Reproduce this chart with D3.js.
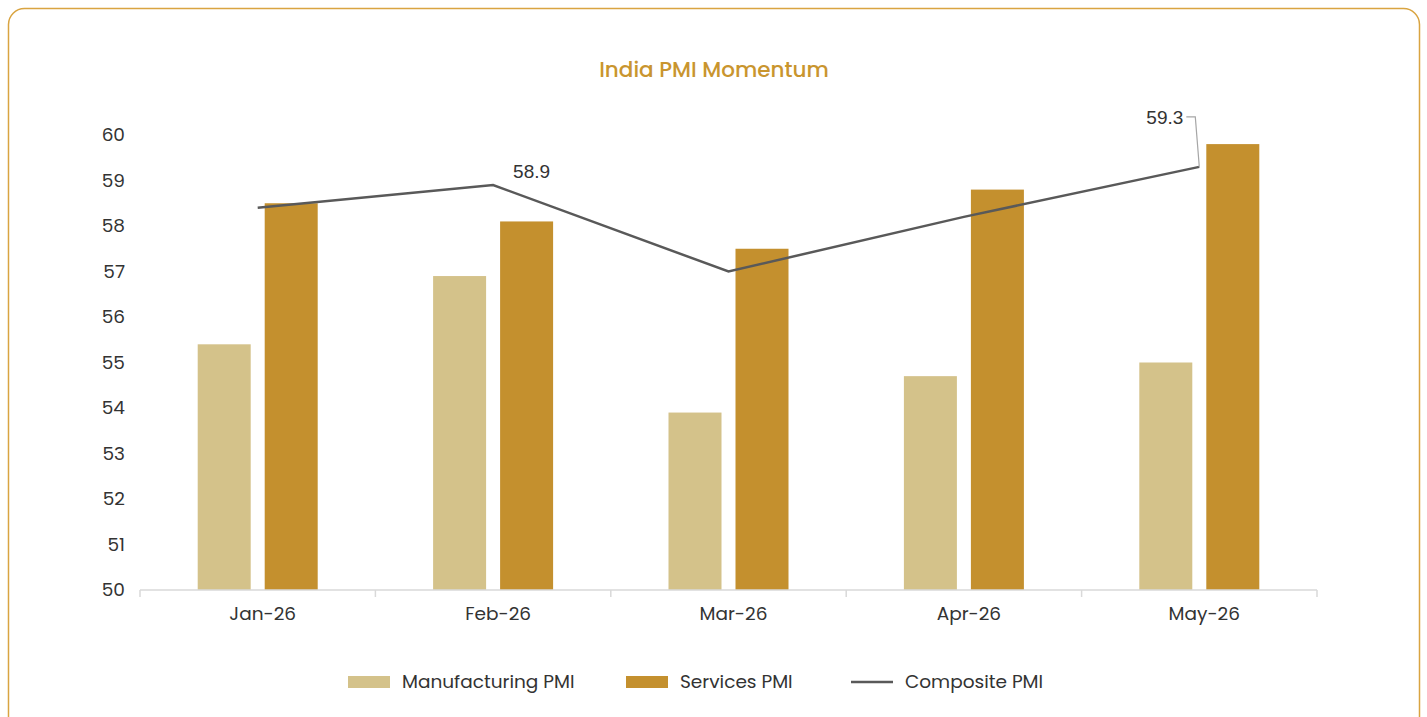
<!DOCTYPE html>
<html>
<head>
<meta charset="utf-8">
<script src="https://cdn.jsdelivr.net/npm/d3@7"></script>
<style>
  body { margin: 0; background: #fff; }
  svg text { font-family: Poppins, "Open Sans", sans-serif; }
</style>
</head>
<body>
<svg id="chart" width="1427" height="717"></svg>
<script>
const months = ["Jan-26", "Feb-26", "Mar-26", "Apr-26", "May-26"];
const manufacturing = [55.4, 56.9, 53.9, 54.7, 55.0];
const services = [58.5, 58.1, 57.5, 58.8, 59.8];
const composite = [58.4, 58.9, 57.0, 58.2, 59.3];
const yTicks = [50, 51, 52, 53, 54, 55, 56, 57, 58, 59, 60];

const colors = {
    manufacturing: "#D4C28A",
    services: "#C4902E",
    composite: "#595959",
    title: "#C9952E",
    border: "#D9A441"
};

const svg = d3.select("#chart");

// card border
svg.append("rect")
    .attr("x", 8.5).attr("y", 8.5)
    .attr("width", 1411).attr("height", 724)
    .attr("rx", 16)
    .attr("fill", "#fff")
    .attr("stroke", colors.border)
    .attr("stroke-width", 1.5);

svg.append("text")
    .attr("x", 714).attr("y", 77)
    .attr("text-anchor", "middle")
    .attr("fill", colors.title)
    .style("font-size", "21.5px")
    .style("font-weight", 500)
    .text("India PMI Momentum");

const x = d3.scaleBand().domain(months).range([140, 1317]);
const y = d3.scaleLinear().domain([50, 60]).range([590, 135]);

const barW = 53, gap = 14;

// y labels
svg.append("g")
    .selectAll("text")
    .data(yTicks)
    .enter()
    .append("text")
    .attr("x", 125)
    .attr("y", d => y(d))
    .attr("dy", "0.35em")
    .attr("text-anchor", "end")
    .attr("fill", "#333")
    .style("font-size", "18.5px")
    .text(d => d);

// bars
const g = svg.append("g");
g.selectAll("rect.mfg")
    .data(manufacturing)
    .enter()
    .append("rect")
    .attr("class", "mfg")
    .attr("x", (d, i) => x(months[i]) + x.bandwidth() / 2 - gap / 2 - barW)
    .attr("y", d => y(d))
    .attr("width", barW)
    .attr("height", d => y(50) - y(d))
    .attr("fill", colors.manufacturing);

g.selectAll("rect.svc")
    .data(services)
    .enter()
    .append("rect")
    .attr("class", "svc")
    .attr("x", (d, i) => x(months[i]) + x.bandwidth() / 2 + gap / 2)
    .attr("y", d => y(d))
    .attr("width", barW)
    .attr("height", d => y(50) - y(d))
    .attr("fill", colors.services);

// x axis
const xAxis = svg.append("g").attr("transform", "translate(0,590)");
xAxis.append("line")
    .attr("x1", 140).attr("x2", 1317)
    .attr("stroke", "#d9d9d9").attr("stroke-width", 1.5);
xAxis.selectAll("line.tick")
    .data(months.concat(["end"]))
    .enter()
    .append("line")
    .attr("class", "tick")
    .attr("x1", (d, i) => 140 + i * x.step())
    .attr("x2", (d, i) => 140 + i * x.step())
    .attr("y1", 0).attr("y2", 7)
    .attr("stroke", "#d9d9d9").attr("stroke-width", 1.5);
xAxis.selectAll("text")
    .data(months)
    .enter()
    .append("text")
    .attr("x", d => x(d) + x.bandwidth() / 2 + 5)
    .attr("y", 30)
    .attr("text-anchor", "middle")
    .attr("fill", "#333")
    .style("font-size", "18.5px")
    .text(d => d);

// composite line
const line = d3.line()
    .x((d, i) => x(months[i]) + x.bandwidth() / 2)
    .y(d => y(d));
svg.append("path")
    .datum(composite)
    .attr("d", line)
    .attr("fill", "none")
    .attr("stroke", colors.composite)
    .attr("stroke-width", 2.5);

// data labels
const cx = i => x(months[i]) + x.bandwidth() / 2;
svg.append("text")
    .attr("x", cx(1) + 20).attr("y", y(composite[1]) - 7)
    .attr("fill", "#333")
    .style("font-family", "'Liberation Sans', Arial, sans-serif")
    .style("font-size", "19px")
    .text(composite[1].toFixed(1));

const mx = cx(4), my = y(composite[4]);
svg.append("polyline")
    .attr("points", `${mx},${my} ${mx - 4},${my - 50} ${mx - 13},${my - 50}`)
    .attr("fill", "none")
    .attr("stroke", "#a6a6a6")
    .attr("stroke-width", 1.2);
svg.append("text")
    .attr("x", mx - 16).attr("y", my - 43)
    .attr("text-anchor", "end")
    .attr("fill", "#333")
    .style("font-family", "'Liberation Sans', Arial, sans-serif")
    .style("font-size", "19px")
    .text(composite[4].toFixed(1));

// legend
const legend = svg.append("g").attr("transform", "translate(0,682)");
const items = [
    { label: "Manufacturing PMI", type: "rect", color: colors.manufacturing, x: 348 },
    { label: "Services PMI", type: "rect", color: colors.services, x: 626 },
    { label: "Composite PMI", type: "line", color: colors.composite, x: 851 }
];
items.forEach(it => {
    if (it.type === "rect") {
        legend.append("rect")
            .attr("x", it.x).attr("y", -6)
            .attr("width", 42).attr("height", 12)
            .attr("fill", it.color);
    } else {
        legend.append("line")
            .attr("x1", it.x).attr("x2", it.x + 42)
            .attr("y1", 0).attr("y2", 0)
            .attr("stroke", it.color).attr("stroke-width", 2.5);
    }
    legend.append("text")
        .attr("x", it.x + 54).attr("y", 0)
        .attr("dy", "0.35em")
        .attr("fill", "#333")
        .style("font-size", "18.5px")
        .text(it.label);
});
</script>
</body>
</html>
